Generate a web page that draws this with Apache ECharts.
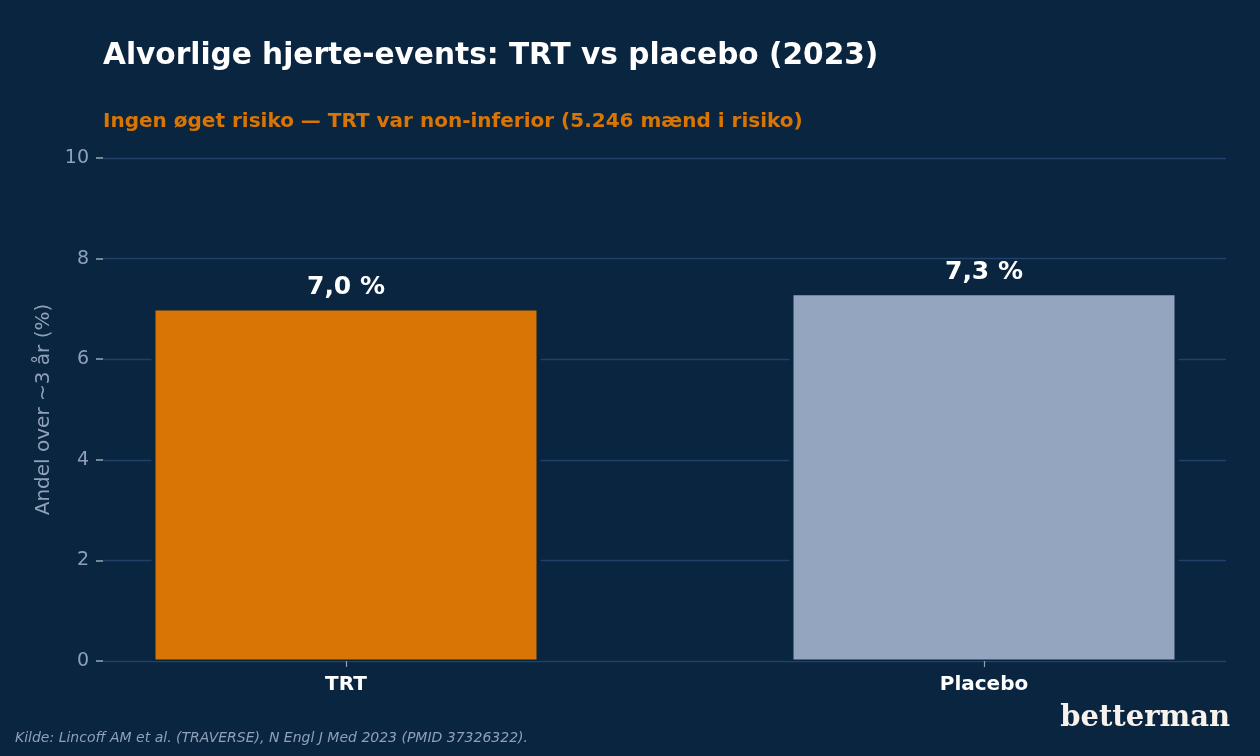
<!DOCTYPE html>
<html>
<head>
<meta charset="utf-8">
<script src="https://cdn.jsdelivr.net/npm/echarts@6/dist/echarts.min.js"></script>
<style>
html,body{margin:0;padding:0;background:#0a2540;}
#c{width:1260px;height:756px;}
</style>
</head>
<body>
<div id="c"></div>
<script>
const categories = ['TRT', 'Placebo'];
const values = [7.0, 7.3];
const valueLabels = ['7,0 %', '7,3 %'];
const barColors = ['#d97504', '#94a6bf'];
const yTicks = [0, 2, 4, 6, 8, 10];

const BG = '#0a2540';
const FONT = '"DejaVu Sans", sans-serif';
const chart = echarts.init(document.getElementById('c'), null, {renderer: 'canvas'});

const option = {
  backgroundColor: BG,
  animation: false,
  title: [
    {text: 'Alvorlige hjerte-events: TRT vs placebo (2023)', left: 103, top: 41, padding: 0,
     textStyle: {color: '#ffffff', fontFamily: FONT, fontWeight: 'bold', fontSize: 29.6}},
    {text: 'Ingen øget risiko — TRT var non-inferior (5.246 mænd i risiko)', left: 103, top: 112, padding: 0,
     textStyle: {color: '#d97504', fontFamily: FONT, fontWeight: 'bold', fontSize: 20}}
  ],
  grid: [
    {left: 103, right: 34, top: 158, bottom: 95},
    {left: 346, right: 276, top: 158, bottom: 95}
  ],
  xAxis: [
    {gridIndex: 0, type: 'value', min: 0, max: 1, show: false},
    {gridIndex: 1, type: 'category', data: categories, boundaryGap: false,
     axisLine: {show: false},
     axisTick: {show: true, length: 6, lineStyle: {color: '#8fa0b8', width: 1.2}},
     axisLabel: {color: '#ffffff', fontFamily: FONT, fontWeight: 'bold', fontSize: 20, margin: 14}},
    {gridIndex: 1, type: 'category', data: categories, boundaryGap: false, show: false}
  ],
  yAxis: [
    {gridIndex: 0, type: 'value', min: yTicks[0], max: yTicks[yTicks.length - 1], interval: 2,
     name: 'Andel over ~3 år (%)', nameLocation: 'middle', nameGap: 48,
     nameTextStyle: {color: '#8fa0b8', fontFamily: FONT, fontSize: 20},
     axisLine: {show: false},
     axisTick: {show: true, length: 7, lineStyle: {color: '#8fa0b8', width: 1.6}},
     axisLabel: {color: '#8fa0b8', fontFamily: FONT, fontSize: 19, margin: 14, padding: [3, 0, 0, 0]},
     splitLine: {show: true, lineStyle: {color: '#21416a', width: 1.4}}},
    {gridIndex: 1, type: 'value', min: 0, max: 10, show: false},
    {gridIndex: 1, type: 'value', min: 0, max: 10, show: false}
  ],
  series: [
    {
      type: 'bar',
      xAxisIndex: 2, yAxisIndex: 2,
      clip: false, silent: true, z: 1,
      barWidth: 389,
      data: values.slice(),
      itemStyle: {color: BG}
    },
    {
      type: 'bar',
      xAxisIndex: 1, yAxisIndex: 1,
      clip: false, z: 3,
      barWidth: 384,
      data: values.map((v, i) => ({value: v, itemStyle: {color: barColors[i]}})),
      itemStyle: {borderColor: BG, borderWidth: 1.5},
      label: {show: true, position: 'top', distance: 9,
        formatter: p => valueLabels[p.dataIndex],
        color: '#ffffff', fontFamily: FONT, fontWeight: 'bold', fontSize: 25}
    }
  ],
  graphic: [
    {type: 'text', left: 15, top: 731,
     style: {text: 'Kilde: Lincoff AM et al. (TRAVERSE), N Engl J Med 2023 (PMID 37326322).',
       fill: '#8fa0b8', font: 'italic 14px "DejaVu Sans", sans-serif'}},
    {type: 'text', right: 30, top: 704,
     style: {text: 'betterman', fill: '#f7f3ec', font: 'bold 29px "DejaVu Serif", serif'}}
  ]
};
chart.setOption(option);
</script>
</body>
</html>
